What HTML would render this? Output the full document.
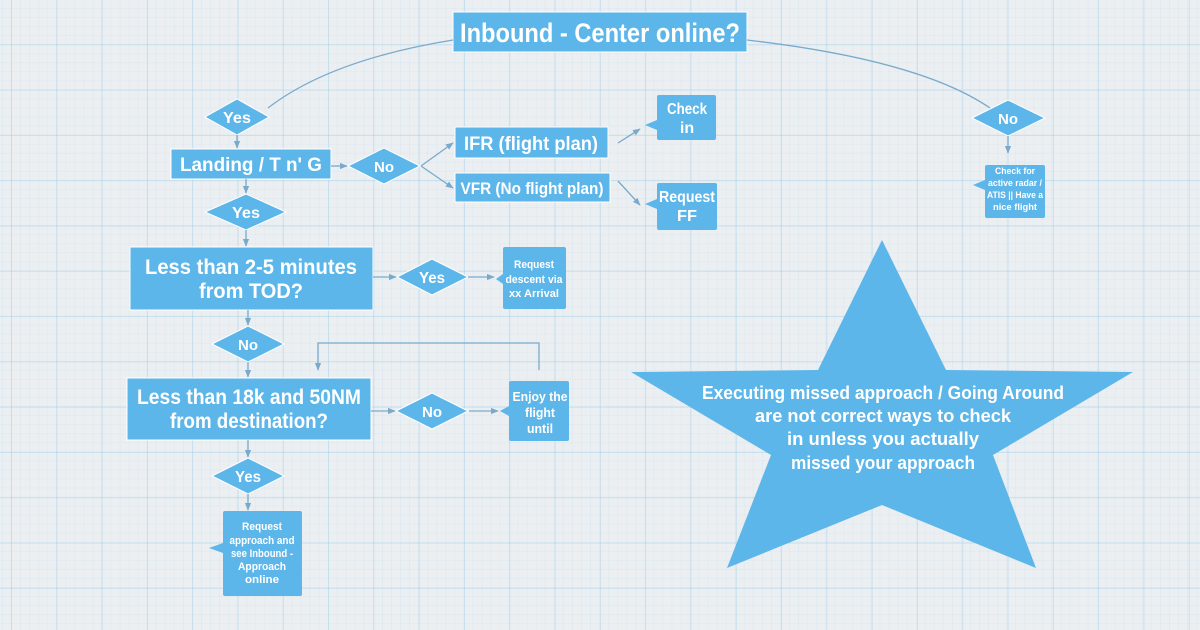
<!DOCTYPE html>
<html><head><style>
html,body{margin:0;padding:0}
body{width:1200px;height:630px;overflow:hidden;background:#eceff1;
background-image:
linear-gradient(rgba(160,205,232,.45) 1px,transparent 1px),
linear-gradient(90deg,rgba(160,205,232,.45) 1px,transparent 1px),
linear-gradient(rgba(180,215,238,.18) 1px,transparent 1px),
linear-gradient(90deg,rgba(180,215,238,.18) 1px,transparent 1px);
background-size:45.3px 45.3px,45.3px 45.3px,9.06px 9.06px,9.06px 9.06px;
background-position:11px -1px,11px -1px,2px 8px,2px 8px;}
svg{position:absolute;left:0;top:0}
text{font-family:"Liberation Sans",sans-serif;font-weight:bold;fill:#fff;text-anchor:middle}
</style></head><body>
<svg width="1200" height="630" viewBox="0 0 1200 630">
<defs><marker id="a" viewBox="0 0 10 10" refX="9" refY="5" markerWidth="6" markerHeight="6" orient="auto"><path d="M0,1 L10,5 L0,9 z" fill="#79aacb"/></marker></defs>
<g fill="#5cb6ea" stroke="#fff" stroke-width="1">
<rect x="453" y="12" width="294" height="40"/>
<polygon points="205,117 237,99 269,117 237,135"/>
<rect x="171" y="149" width="160" height="30"/>
<polygon points="348,166 384,148 420,166 384,184"/>
<rect x="455" y="127" width="153" height="31"/>
<rect x="455" y="173" width="155" height="29"/>
<polygon points="205,212 246,194 286,212 246,230"/>
<rect x="130" y="247" width="243" height="63"/>
<polygon points="397,277 432,259 468,277 432,295"/>
<polygon points="212,344 248,326 284,344 248,362"/>
<rect x="127" y="378" width="244" height="62"/>
<polygon points="396,411 432,393 468,411 432,429"/>
<polygon points="212,476 248,458 284,476 248,494"/>
<polygon points="972,118 1008,100 1045,118 1008,136"/>
</g>
<g fill="#5cb6ea">
<path d="M659,95 h55 a2,2 0 0 1 2,2 v41 a2,2 0 0 1 -2,2 h-55 a2,2 0 0 1 -2,-2 v-8 l-12,-5 l12,-5 v-23 a2,2 0 0 1 2,-2z"/>
<path d="M659,183 h56 a2,2 0 0 1 2,2 v43 a2,2 0 0 1 -2,2 h-56 a2,2 0 0 1 -2,-2 v-19 l-12,-5 l12,-5 v-14 a2,2 0 0 1 2,-2z"/>
<path d="M505,247 h59 a2,2 0 0 1 2,2 v58 a2,2 0 0 1 -2,2 h-59 a2,2 0 0 1 -2,-2 v-23 l-7,-5 l7,-5 v-25 a2,2 0 0 1 2,-2z"/>
<path d="M511,381 h56 a2,2 0 0 1 2,2 v56 a2,2 0 0 1 -2,2 h-56 a2,2 0 0 1 -2,-2 v-23 l-9,-5 l9,-5 v-23 a2,2 0 0 1 2,-2z"/>
<path d="M225,511 h75 a2,2 0 0 1 2,2 v81 a2,2 0 0 1 -2,2 h-75 a2,2 0 0 1 -2,-2 v-41 l-14,-5 l14,-5 v-30 a2,2 0 0 1 2,-2z"/>
<path d="M987,165 h56 a2,2 0 0 1 2,2 v49 a2,2 0 0 1 -2,2 h-56 a2,2 0 0 1 -2,-2 v-26 l-12,-5 l12,-5 v-13 a2,2 0 0 1 2,-2z"/>
<polygon points="882,240 946,370 1133,372 993,455 1036,568 882,505 727,568 771,455 631,372 818,370"/>
</g>
<g fill="none" stroke="#79aacb" stroke-width="1.3">
<path d="M453,40 Q330,60 268,108"/>
<path d="M747,40 Q920,60 990,108"/>
<path d="M237,135 V148" marker-end="url(#a)"/>
<path d="M331,166 H347" marker-end="url(#a)"/>
<path d="M421,166 L453,143" marker-end="url(#a)"/>
<path d="M421,166 L453,188" marker-end="url(#a)"/>
<path d="M618,143 L640,129" marker-end="url(#a)"/>
<path d="M618,181 L640,205" marker-end="url(#a)"/>
<path d="M246,179 V193" marker-end="url(#a)"/>
<path d="M246,230 V246" marker-end="url(#a)"/>
<path d="M373,277 H396" marker-end="url(#a)"/>
<path d="M468,277 H494" marker-end="url(#a)"/>
<path d="M248,310 V325" marker-end="url(#a)"/>
<path d="M248,362 V377" marker-end="url(#a)"/>
<path d="M371,411 H395" marker-end="url(#a)"/>
<path d="M469,411 H498" marker-end="url(#a)"/>
<path d="M539,370 V343 H318 V370" marker-end="url(#a)"/>
<path d="M248,440 V457" marker-end="url(#a)"/>
<path d="M248,494 V510" marker-end="url(#a)"/>
<path d="M1008,136 V153" marker-end="url(#a)"/>
</g>
<g lengthAdjust="spacingAndGlyphs">
<text x="600" y="42" font-size="27" textLength="280" lengthAdjust="spacingAndGlyphs">Inbound - Center online?</text>
<text x="237" y="123" font-size="16" textLength="28" lengthAdjust="spacingAndGlyphs">Yes</text>
<text x="251" y="171" font-size="19" textLength="142" lengthAdjust="spacingAndGlyphs">Landing / T n' G</text>
<text x="384" y="172" font-size="15" textLength="20" lengthAdjust="spacingAndGlyphs">No</text>
<text x="531" y="150" font-size="19" textLength="134" lengthAdjust="spacingAndGlyphs">IFR (flight plan)</text>
<text x="532" y="194" font-size="17" textLength="143" lengthAdjust="spacingAndGlyphs">VFR (No flight plan)</text>
<text x="687" y="114" font-size="16" textLength="40" lengthAdjust="spacingAndGlyphs">Check</text>
<text x="687" y="133" font-size="16">in</text>
<text x="687" y="202" font-size="16" textLength="56" lengthAdjust="spacingAndGlyphs">Request</text>
<text x="687" y="221" font-size="16" textLength="20" lengthAdjust="spacingAndGlyphs">FF</text>
<text x="246" y="218" font-size="16" textLength="28" lengthAdjust="spacingAndGlyphs">Yes</text>
<text x="251" y="274" font-size="21" textLength="212" lengthAdjust="spacingAndGlyphs">Less than 2-5 minutes</text>
<text x="251" y="298" font-size="21" textLength="104" lengthAdjust="spacingAndGlyphs">from TOD?</text>
<text x="432" y="283" font-size="16" textLength="26" lengthAdjust="spacingAndGlyphs">Yes</text>
<text x="534" y="268" font-size="11" textLength="40" lengthAdjust="spacingAndGlyphs">Request</text>
<text x="534" y="283" font-size="11" textLength="57" lengthAdjust="spacingAndGlyphs">descent via</text>
<text x="534" y="297" font-size="11" textLength="50" lengthAdjust="spacingAndGlyphs">xx Arrival</text>
<text x="248" y="350" font-size="15" textLength="20" lengthAdjust="spacingAndGlyphs">No</text>
<text x="249" y="404" font-size="21" textLength="224" lengthAdjust="spacingAndGlyphs">Less than 18k and 50NM</text>
<text x="249" y="428" font-size="21" textLength="158" lengthAdjust="spacingAndGlyphs">from destination?</text>
<text x="432" y="417" font-size="15" textLength="20" lengthAdjust="spacingAndGlyphs">No</text>
<text x="540" y="401" font-size="13" textLength="55" lengthAdjust="spacingAndGlyphs">Enjoy the</text>
<text x="540" y="417" font-size="13" textLength="30" lengthAdjust="spacingAndGlyphs">flight</text>
<text x="540" y="433" font-size="13" textLength="26" lengthAdjust="spacingAndGlyphs">until</text>
<text x="248" y="482" font-size="16" textLength="26" lengthAdjust="spacingAndGlyphs">Yes</text>
<text x="262" y="530" font-size="11" textLength="40" lengthAdjust="spacingAndGlyphs">Request</text>
<text x="262" y="544" font-size="11" textLength="65" lengthAdjust="spacingAndGlyphs">approach and</text>
<text x="262" y="557" font-size="11" textLength="62" lengthAdjust="spacingAndGlyphs">see Inbound -</text>
<text x="262" y="570" font-size="11" textLength="48" lengthAdjust="spacingAndGlyphs">Approach</text>
<text x="262" y="583" font-size="11" textLength="34" lengthAdjust="spacingAndGlyphs">online</text>
<text x="1008" y="124" font-size="15" textLength="20" lengthAdjust="spacingAndGlyphs">No</text>
<text x="1015" y="174" font-size="9" textLength="40" lengthAdjust="spacingAndGlyphs">Check for</text>
<text x="1015" y="186" font-size="9" textLength="54" lengthAdjust="spacingAndGlyphs">active radar /</text>
<text x="1015" y="198" font-size="9" textLength="56" lengthAdjust="spacingAndGlyphs">ATIS || Have a</text>
<text x="1015" y="210" font-size="9" textLength="44" lengthAdjust="spacingAndGlyphs">nice flight</text>
<text x="883" y="399" font-size="18" textLength="362" lengthAdjust="spacingAndGlyphs">Executing missed approach / Going Around</text>
<text x="883" y="422" font-size="18" textLength="256" lengthAdjust="spacingAndGlyphs">are not correct ways to check</text>
<text x="883" y="445" font-size="18" textLength="192" lengthAdjust="spacingAndGlyphs">in unless you actually</text>
<text x="883" y="469" font-size="18" textLength="184" lengthAdjust="spacingAndGlyphs">missed your approach</text>
</g>
</svg>
</body></html>
